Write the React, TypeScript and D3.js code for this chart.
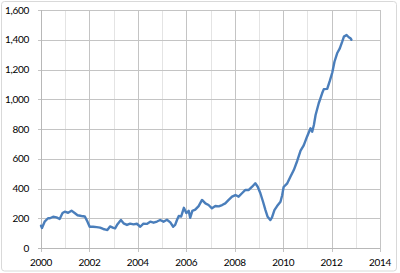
import React from "react";
import * as d3 from "d3";

const years: number[] = [
  2000.0, 2000.04, 2000.15, 2000.29, 2000.37, 2000.5, 2000.64, 2000.77, 2000.89, 2000.98,
  2001.12, 2001.26, 2001.39, 2001.51, 2001.67, 2001.81, 2001.92, 2002.01, 2002.15, 2002.3,
  2002.44, 2002.57, 2002.67, 2002.74, 2002.85, 2002.99, 2003.06, 2003.16, 2003.3, 2003.41,
  2003.55, 2003.68, 2003.82, 2003.96, 2004.1, 2004.23, 2004.37, 2004.51, 2004.65, 2004.79,
  2004.92, 2005.06, 2005.2, 2005.34, 2005.46, 2005.54, 2005.62, 2005.69, 2005.79, 2005.9,
  2006.0, 2006.1, 2006.16, 2006.25, 2006.37, 2006.51, 2006.65, 2006.79, 2006.92, 2007.06,
  2007.2, 2007.34, 2007.48, 2007.61, 2007.75, 2007.89, 2008.03, 2008.16, 2008.3, 2008.44,
  2008.58, 2008.72, 2008.85, 2008.95, 2009.06, 2009.17, 2009.27, 2009.36, 2009.47, 2009.54,
  2009.64, 2009.75, 2009.89, 2009.96, 2010.02, 2010.17, 2010.3, 2010.44, 2010.58, 2010.72,
  2010.85, 2010.99, 2011.13, 2011.2, 2011.27, 2011.34, 2011.47, 2011.54, 2011.61, 2011.68,
  2011.82, 2011.93, 2012.03, 2012.12, 2012.23, 2012.34, 2012.44, 2012.51, 2012.62, 2012.71,
  2012.78, 2012.82,
];

const values: number[] = [
  150, 135, 177, 200, 200, 210, 206, 195, 235, 244,
  237, 251, 235, 220, 215, 212, 177, 143, 143, 140,
  137, 128, 124, 121, 145, 135, 132, 160, 188, 166,
  155, 164, 159, 163, 143, 164, 162, 177, 170, 178,
  188, 177, 190, 172, 143, 155, 190, 215, 212, 270,
  235, 250, 203, 250, 258, 282, 323, 300, 289, 267,
  282, 280, 289, 300, 323, 345, 356, 345, 368, 390,
  390, 412, 435, 412, 368, 311, 255, 210, 188, 206,
  255, 282, 311, 355, 410, 435, 479, 524, 585, 655,
  690, 750, 805, 782, 827, 894, 973, 1006, 1040, 1068,
  1070, 1125, 1180, 1252, 1309, 1342, 1387, 1421, 1432, 1417,
  1410, 1400,
];

const yTicks: number[] = [0, 200, 400, 600, 800, 1000, 1200, 1400, 1600];
const xLabels: number[] = [2000, 2002, 2004, 2006, 2008, 2010, 2012, 2014];
const xGridYears: number[] = d3.range(2000, 2015);

export default function App() {
  const W = 400;
  const H = 273;
  const x = d3.scaleLinear().domain([2000, 2014]).range([41, 380]);
  const y = d3.scaleLinear().domain([0, 1600]).range([248, 10]);
  const pts: [number, number][] = years.map((yr, i) => [yr, values[i]]);
  const line = d3
    .line<[number, number]>()
    .x((d) => x(d[0]))
    .y((d) => y(d[1]));
  const fmt = d3.format(",");
  const font = "Lato, 'Open Sans', sans-serif";

  return (
    <svg
      width={W}
      height={H}
      style={{ position: "absolute", left: 0, top: 0, background: "#fff" }}
    >
      <rect x={1.5} y={1.5} width={395} height={269.5} rx={3} fill="#fff" stroke="#d9d9d9" />
      {xGridYears.map((yr) => (
        <line
          key={"vx" + yr}
          x1={Math.round(x(yr)) + 0.5}
          x2={Math.round(x(yr)) + 0.5}
          y1={y(1600)}
          y2={y(0)}
          stroke={yr % 2 === 0 ? "#c4c4c4" : "#e4e4e4"}
          strokeWidth={1}
        />
      ))}
      {yTicks.map((v) => (
        <line
          key={"hy" + v}
          x1={x(2000) - 3}
          x2={x(2014)}
          y1={Math.round(y(v)) + 0.5}
          y2={Math.round(y(v)) + 0.5}
          stroke="#c4c4c4"
          strokeWidth={1}
        />
      ))}
      {xLabels.map((yr) => (
        <line
          key={"tx" + yr}
          x1={Math.round(x(yr)) + 0.5}
          x2={Math.round(x(yr)) + 0.5}
          y1={y(0)}
          y2={y(0) + 4}
          stroke="#c4c4c4"
        />
      ))}
      <line x1={41.5} x2={41.5} y1={y(1600)} y2={y(0)} stroke="#b8b8b8" />
      <line x1={38} x2={380} y1={248.5} y2={248.5} stroke="#b8b8b8" />
      <path
        d={line(pts) || ""}
        fill="none"
        stroke="#4a7ebb"
        strokeWidth={2.4}
        strokeLinejoin="round"
        strokeLinecap="round"
      />
      {yTicks.map((v) => (
        <text
          key={"ly" + v}
          x={29}
          y={y(v) + 1}
          textAnchor="end"
          dominantBaseline="middle"
          fontFamily={font}
          fontSize={10}
          fill="#000"
          letterSpacing={-0.3}
        >
          {fmt(v)}
        </text>
      ))}
      {xLabels.map((yr) => (
        <text
          key={"lx" + yr}
          x={x(yr)}
          y={263}
          textAnchor="middle"
          dominantBaseline="middle"
          fontFamily={font}
          fontSize={10}
          fill="#000"
          letterSpacing={-0.3}
        >
          {yr}
        </text>
      ))}
    </svg>
  );
}
